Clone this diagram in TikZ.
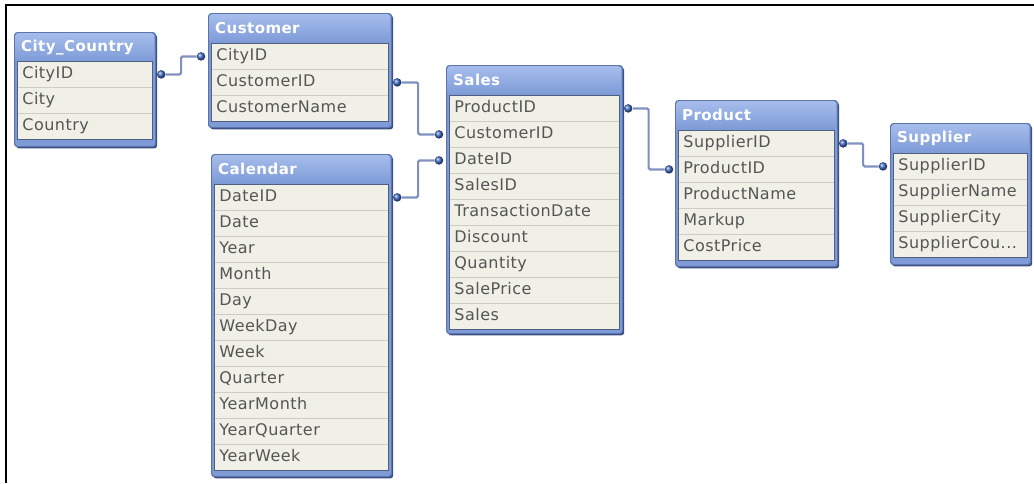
\documentclass[tikz,border=0pt]{standalone}
\usepackage{fontspec}
\setmainfont{DejaVu Sans}[LetterSpace=3]
\usepackage{xcolor}
\usetikzlibrary{positioning,fit,calc,shadows}
\definecolor{headtop}{HTML}{A6BDEB}
\definecolor{headbot}{HTML}{7E9BD7}
\definecolor{frameline}{HTML}{5B74AE}
\definecolor{shade}{HTML}{3B4D7C}
\definecolor{rowfill}{HTML}{F0F0E7}
\definecolor{rowline}{HTML}{CDCDC4}
\definecolor{listline}{HTML}{4F5F80}
\definecolor{rowtext}{HTML}{555555}
\definecolor{linkcol}{HTML}{8190C0}
\definecolor{dotcol}{HTML}{3E6AC0}

\begin{document}
\begin{tikzpicture}[x=1pt,y=-1pt,font=\fontsize{16}{18}\selectfont,
  box/.style={draw=frameline,line width=1.2pt,rounded corners=3pt,anchor=north west,
    fill=headbot,inner sep=0pt,
    drop shadow={shadow xshift=1.6pt,shadow yshift=-1.8pt,fill=shade,opacity=1}},
  head/.style={anchor=north west,text width=#1,inner xsep=6pt,inner ysep=0pt,
    minimum height=28pt,top color=headtop,bottom color=headbot,rounded corners=3pt,
    text=white,font=\bfseries\fontsize{15}{17}\selectfont},
  row/.style={anchor=north west,text width=#1,inner xsep=5pt,inner ysep=0pt,
    minimum height=26pt,text height=11.5pt,text depth=3pt,fill=rowfill,draw=rowline,
    line width=0.8pt,text=rowtext,align=left},
  list/.style={draw=listline,line width=0.8pt,inner sep=0pt},
  dot/.style={circle,inner sep=0pt,minimum size=8.5pt,ball color=dotcol},
  link/.style={draw=linkcol,line width=2.2pt,rounded corners=1.5pt}]
\useasboundingbox (0,0) rectangle (1034,483);
\draw[line width=1.6pt] (1034,5) -- (6,5) -- (6,483);
% --- City_Country ---
\node[box,minimum width=141pt,minimum height=114pt] (cc) at (14,32) {};
\node[head=127pt] (cc-h) at (15,33) {City\_Country};
\foreach \f [count=\i] in {CityID,City,Country}
  \node[row=125pt] (cc-\i) at (17,{61+26*(\i-1)}) {\f};
\node[list,fit=(cc-1)(cc-3)] (cc-l) {};
% --- Customer ---
\node[box,minimum width=183pt,minimum height=114pt] (cu) at (208,13) {};
\node[head=169pt] (cu-h) at (209,14) {Customer};
\foreach \f [count=\i] in {CityID,CustomerID,CustomerName}
  \node[row=167pt] (cu-\i) at (211,{43+26*(\i-1)}) {\f};
\node[list,fit=(cu-1)(cu-3)] (cu-l) {};
% --- Calendar ---
\node[box,minimum width=180pt,minimum height=322pt] (cal) at (211,154) {};
\node[head=166pt] (cal-h) at (212,155) {Calendar};
\foreach \f [count=\i] in {DateID,Date,Year,Month,Day,WeekDay,Week,Quarter,YearMonth,YearQuarter,YearWeek}
  \node[row=164pt] (cal-\i) at (214,{184+26*(\i-1)}) {\f};
\node[list,fit=(cal-1)(cal-11)] (cal-l) {};
% --- Sales ---
\node[box,minimum width=176pt,minimum height=268pt] (sa) at (446,65) {};
\node[head=162pt] (sa-h) at (447,66) {Sales};
\foreach \f [count=\i] in {ProductID,CustomerID,DateID,SalesID,TransactionDate,Discount,Quantity,SalePrice,Sales}
  \node[row=160pt] (sa-\i) at (449,{95+26*(\i-1)}) {\f};
\node[list,fit=(sa-1)(sa-9)] (sa-l) {};
% --- Product ---
\node[box,minimum width=162pt,minimum height=166pt] (pr) at (675,100) {};
\node[head=148pt] (pr-h) at (676,101) {Product};
\foreach \f [count=\i] in {SupplierID,ProductID,ProductName,Markup,CostPrice}
  \node[row=146pt] (pr-\i) at (678,{130+26*(\i-1)}) {\f};
\node[list,fit=(pr-1)(pr-5)] (pr-l) {};
% --- Supplier ---
\node[box,minimum width=140pt,minimum height=141pt] (su) at (890,123) {};
\node[head=126pt] (su-h) at (891,124) {Supplier};
\foreach \f [count=\i] in {SupplierID,SupplierName,SupplierCity,SupplierCou.{}..}
  \node[row=124pt] (su-\i) at (893,{153+26*(\i-1)}) {\f};
\node[list,fit=(su-1)(su-4)] (su-l) {};
% --- key dots ---
\node[dot] (cc-o) at ($(cc.east |- cc-1)+(5,0)$) {};
\node[dot] (cu-i) at ($(cu.west |- cu-1)+(-7,0)$) {};
\node[dot] (cu-o) at ($(cu.east |- cu-2)+(5,0)$) {};
\node[dot] (cal-o) at ($(cal.east |- cal-1)+(5,0)$) {};
\node[dot] (sa-i1) at ($(sa.west |- sa-2)+(-7,0)$) {};
\node[dot] (sa-i2) at ($(sa.west |- sa-3)+(-7,0)$) {};
\node[dot] (sa-o) at ($(sa.east |- sa-1)+(5,0)$) {};
\node[dot] (pr-i) at ($(pr.west |- pr-2)+(-6,0)$) {};
\node[dot] (pr-o) at ($(pr.east |- pr-1)+(5,0)$) {};
\node[dot] (su-i) at ($(su.west |- su-1)+(-7,0)$) {};
% --- links ---
\draw[link] (cc-o) -| ($(cc-o)!.5!(cu-i)$) |- (cu-i);
\draw[link] (cu-o) -| ($(cu-o)!.5!(sa-i1)$) |- (sa-i1);
\draw[link] (cal-o) -| ($(cal-o)!.5!(sa-i2)$) |- (sa-i2);
\draw[link] (sa-o) -| ($(sa-o)!.5!(pr-i)$) |- (pr-i);
\draw[link] (pr-o) -| ($(pr-o)!.5!(su-i)$) |- (su-i);
\end{tikzpicture}
\end{document}
